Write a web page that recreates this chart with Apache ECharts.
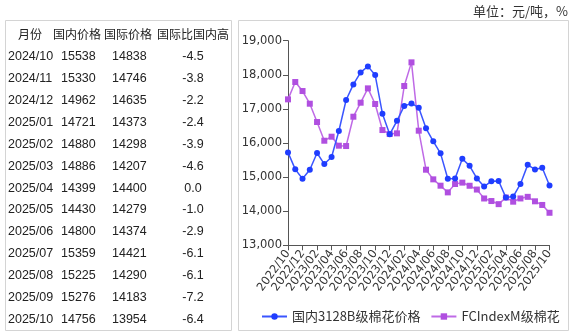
<!DOCTYPE html>
<html><head><meta charset="utf-8">
<script src="https://cdn.jsdelivr.net/npm/echarts@6/dist/echarts.min.js"></script>
<style>html,body{margin:0;padding:0;background:#fff}#c{width:573px;height:335px}</style>
</head><body><div id="c"></div>
<script>
// ---- chart data ----
const months = ['2022/10','2022/11','2022/12','2023/01','2023/02','2023/03','2023/04','2023/05','2023/06','2023/07','2023/08','2023/09','2023/10','2023/11','2023/12','2024/01','2024/02','2024/03','2024/04','2024/05','2024/06','2024/07','2024/08','2024/09','2024/10','2024/11','2024/12','2025/01','2025/02','2025/03','2025/04','2025/05','2025/06','2025/07','2025/08','2025/09','2025/10'];
const domestic = [15725,15227,14953,15217,15706,15383,15589,16351,17260,17719,18071,18247,17993,16860,16255,16650,17084,17162,17035,16429,16048,15696,14950,14960,15538,15330,14962,14721,14880,14886,14399,14430,14800,15359,15225,15276,14756];
const intl = [17280,17788,17524,17152,16615,16067,16185,15921,15911,16771,17182,17602,17143,16380,16263,16283,17671,18365,16361,15217,14934,14748,14552,14797,14838,14746,14635,14373,14298,14207,14400,14279,14374,14421,14290,14183,13954];
const seriesNames = ['国内3128B级棉花价格','FCIndexM级棉花'];
const yTicks = {min:13000, max:19000, interval:1000};
// ---- table data ----
const tableHeader = ['月份','国内价格','国际价格','国际比国内高'];
const tableMonths = ['2024/10','2024/11','2024/12','2025/01','2025/02','2025/03','2025/04','2025/05','2025/06','2025/07','2025/08','2025/09','2025/10'];
const tableDomestic = ['15538','15330','14962','14721','14880','14886','14399','14430','14800','15359','15225','15276','14756'];
const tableIntl = ['14838','14746','14635','14373','14298','14207','14400','14279','14374','14421','14290','14183','13954'];
const tableDiff = ['-4.5','-3.8','-2.2','-2.4','-3.9','-4.6','0.0','-1.0','-2.9','-6.1','-6.1','-7.2','-6.4'];
const unitText = '单位：元/吨，%';

const latin = '"Liberation Sans","Noto Sans CJK SC",sans-serif';
const cjk = '"Noto Sans CJK SC",sans-serif';
const axisFont = '"DejaVu Sans","Noto Sans CJK SC",sans-serif';

const graphics = [
  {type:'rect', shape:{x:5.5,y:20.5,width:226,height:310}, style:{fill:'none',stroke:'#d4d4d4',lineWidth:1}, silent:true},
  {type:'rect', shape:{x:238.5,y:20.5,width:330,height:310}, style:{fill:'none',stroke:'#d4d4d4',lineWidth:1}, silent:true},
  {type:'text', x:568, y:11, style:{text:unitText, font:'13px "Noto Sans CJK SC"', fill:'#333', align:'right', verticalAlign:'middle'}}
];
const headerX = [30, 77, 128, 193];
tableHeader.forEach((h,i)=>graphics.push({type:'text', x:headerX[i], y:34, style:{text:h, font:'12px '+cjk, fill:'#222', align:'center', verticalAlign:'middle'}}));
tableMonths.forEach((m,i)=>{
  const y = 57 + i*21.85;
  graphics.push({type:'text', x:8, y:y, style:{text:m, font:'12.5px '+latin, fill:'#222', align:'left', verticalAlign:'middle'}});
  graphics.push({type:'text', x:61, y:y, style:{text:tableDomestic[i], font:'12.5px '+latin, fill:'#222', align:'left', verticalAlign:'middle'}});
  graphics.push({type:'text', x:112, y:y, style:{text:tableIntl[i], font:'12.5px '+latin, fill:'#222', align:'left', verticalAlign:'middle'}});
  graphics.push({type:'text', x:193, y:y, style:{text:tableDiff[i], font:'12.5px '+latin, fill:'#222', align:'center', verticalAlign:'middle'}});
});

const labelStyle = {showMinLabel:true, showMaxLabel:true, hideOverlap:false,
  rotate:54, margin:6, fontSize:11.5, color:'#333', fontFamily:axisFont};
const chart = echarts.init(document.getElementById('c'), null, {renderer:'canvas'});
chart.setOption({
  animation:false,
  backgroundColor:'#fff',
  grid:{left:288, right:23.5, top:40.7, bottom:89.7, containLabel:false},
  legend:{
    left:256, top:305, itemWidth:25, itemHeight:8, itemGap:10,
    textStyle:{fontSize:13, color:'#333', fontFamily:cjk},
    data:seriesNames
  },
  xAxis:[{
    type:'category', data:months, boundaryGap:false, position:'bottom',
    axisLine:{lineStyle:{color:'#555', width:1}},
    axisTick:{interval:(i)=>i%2===0, length:5, lineStyle:{color:'#555'}},
    axisLabel:Object.assign({interval:(i)=>i%4===0}, labelStyle)
  },{
    type:'category', data:months, boundaryGap:false, position:'bottom',
    axisLine:{show:false}, axisTick:{show:false},
    axisLabel:Object.assign({interval:(i)=>i%4===2}, labelStyle)
  }],
  yAxis:{
    type:'value', min:yTicks.min, max:yTicks.max, interval:yTicks.interval,
    axisLine:{show:true, lineStyle:{color:'#555', width:1}},
    axisTick:{show:true, length:5, lineStyle:{color:'#555'}},
    splitLine:{show:false},
    axisLabel:{margin:6, fontSize:11.5, color:'#333', fontFamily:axisFont,
      formatter:v=>v.toLocaleString('en-US')}
  },
  series:[
    {name:seriesNames[0], type:'line', data:domestic, symbol:'circle', symbolSize:6, showAllSymbol:true,
     itemStyle:{color:'#1f3dff'}, lineStyle:{color:'#3a55ff', width:1.5}, z:3},
    {name:seriesNames[1], type:'line', data:intl, symbol:'rect', symbolSize:6, showAllSymbol:true,
     itemStyle:{color:'#b04fe0'}, lineStyle:{color:'#bf6ae6', width:1.5}, z:2}
  ],
  graphic:graphics
});
</script></body></html>
